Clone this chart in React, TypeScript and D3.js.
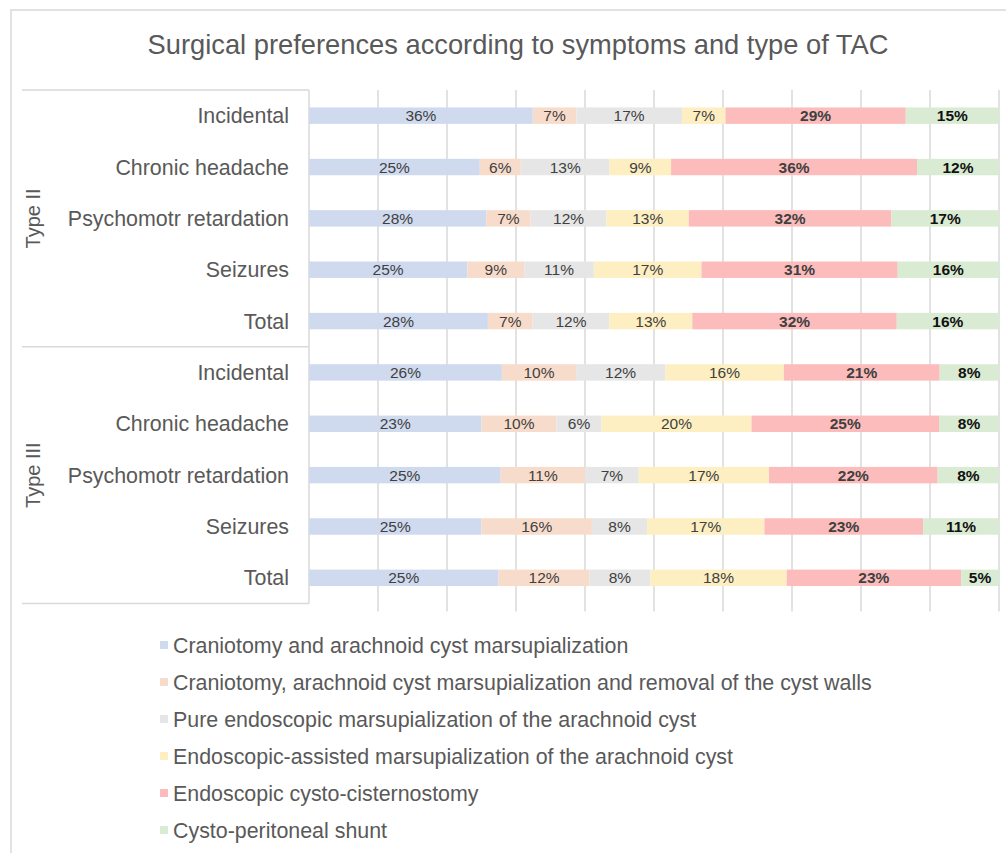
import React, { useEffect, useRef } from 'react';
import * as d3 from 'd3';

// ── data ──
const groups = ['Type II', 'Type III'];
const symptoms = ['Incidental', 'Chronic headache', 'Psychomotr retardation', 'Seizures', 'Total'];

const series = [
  'Craniotomy and arachnoid cyst marsupialization',
  'Craniotomy, arachnoid cyst marsupialization and removal of the cyst walls',
  'Pure endoscopic marsupialization of the arachnoid cyst',
  'Endoscopic-assisted marsupialization of the arachnoid cyst',
  'Endoscopic cysto-cisternostomy',
  'Cysto-peritoneal shunt',
];
const colors = ['#cfdaef', '#f8dccb', '#e6e6e6', '#fdefc1', '#fdbcbc', '#d9ebd2'];

// percentages per row, in series order (Type II rows then Type III rows)
const typeII = [
  [36, 7, 17, 7, 29, 15],
  [25, 6, 13, 9, 36, 12],
  [28, 7, 12, 13, 32, 17],
  [25, 9, 11, 17, 31, 16],
  [28, 7, 12, 13, 32, 16],
];
const typeIII = [
  [26, 10, 12, 16, 21, 8],
  [23, 10, 6, 20, 25, 8],
  [25, 11, 7, 17, 22, 8],
  [25, 16, 8, 17, 23, 11],
  [25, 12, 8, 18, 23, 5],
];
const xTicks = [0, 0.1, 0.2, 0.3, 0.4, 0.5, 0.6, 0.7, 0.8, 0.9, 1];

const W = 1006;
const H = 853;
const PLOT = { left: 309, right: 999, top: 90, bottom: 603.5 };
const TEXT = '#595959';
const FONT = 'Liberation Sans, Arial, sans-serif';

export default function App() {
  const ref = useRef<SVGSVGElement>(null);

  useEffect(() => {
    const svg = d3.select(ref.current);
    svg.selectAll('*').remove();

    const rows = [...typeII, ...typeIII].map((v, i) => {
      const o: any = { key: i };
      v.forEach((x, s) => (o['s' + s] = x));
      return o;
    });
    const keys = series.map((_, s) => 's' + s);
    const stacked = d3.stack().keys(keys).offset(d3.stackOffsetExpand)(rows);

    const x = d3.scaleLinear().domain([0, 1]).range([PLOT.left, PLOT.right]);
    const y = d3.scaleBand<number>()
      .domain(rows.map(r => r.key))
      .range([PLOT.top, PLOT.bottom])
      .paddingInner(0.68)
      .paddingOuter(0.34);

    svg.append('rect').attr('width', W).attr('height', H).attr('fill', '#fff');
    // chart frame
    svg.append('rect').attr('x', 11).attr('y', 10).attr('width', W + 20).attr('height', H + 20)
      .attr('fill', 'none').attr('stroke', '#d9d9d9').attr('stroke-width', 1.5);

    svg.append('text').attr('x', 518).attr('y', 54).attr('text-anchor', 'middle')
      .attr('font-family', FONT).attr('font-size', 27.3)
      .attr('fill', TEXT).text('Surgical preferences according to symptoms and type of TAC');

    // gridlines
    svg.append('g').selectAll('line').data(xTicks.slice(1)).join('line')
      .attr('x1', d => x(d)).attr('x2', d => x(d))
      .attr('y1', PLOT.top).attr('y2', PLOT.bottom + 8)
      .attr('stroke', '#d9d9d9').attr('stroke-width', 1.5);

    // category axis with group separators
    const ax = svg.append('g').attr('stroke', '#d9d9d9').attr('stroke-width', 1.5);
    ax.append('line').attr('x1', PLOT.left).attr('x2', PLOT.left).attr('y1', PLOT.top).attr('y2', PLOT.bottom);
    const step = y.step();
    [0, 5, 10].forEach(k => {
      const yy = PLOT.top + k * step;
      ax.append('line').attr('x1', 22).attr('x2', PLOT.left).attr('y1', yy).attr('y2', yy);
    });

    // bars
    stacked.forEach((layer, s) => {
      svg.append('g').selectAll('rect').data(layer).join('rect')
        .attr('x', d => x(d[0]))
        .attr('width', d => x(d[1]) - x(d[0]))
        .attr('y', d => y(d.data.key)!)
        .attr('height', y.bandwidth())
        .attr('fill', colors[s]);

      svg.append('g').selectAll('text').data(layer).join('text')
        .attr('x', d => (x(d[0]) + x(d[1])) / 2)
        .attr('y', d => y(d.data.key)! + y.bandwidth() / 2 + 5.5)
        .attr('text-anchor', 'middle')
        .attr('font-family', FONT)
        .attr('font-size', 15.5)
        .attr('font-weight', s >= 4 ? 'bold' : 'normal')
        .attr('fill', s === 5 ? '#111' : '#404040')
        .text(d => `${d.data['s' + s]}%`);
    });

    // category labels
    svg.append('g').selectAll('text').data(rows).join('text')
      .attr('x', 289)
      .attr('y', d => y(d.key)! + y.bandwidth() / 2 + 7.5)
      .attr('text-anchor', 'end')
      .attr('font-family', FONT)
      .attr('font-size', 21.4)
      .attr('fill', TEXT)
      .text(d => symptoms[d.key % symptoms.length]);

    // group labels (rotated)
    groups.forEach((g, gi) => {
      const cy = PLOT.top + (gi * 5 + 2.5) * step;
      svg.append('text')
        .attr('transform', `translate(40,${cy}) rotate(-90)`)
        .attr('text-anchor', 'middle')
        .attr('font-family', FONT)
        .attr('font-size', 20)
        .attr('fill', TEXT)
        .text(g);
    });

    // legend
    const lg = svg.append('g');
    series.forEach((name, s) => {
      const cy = 645 + s * 37;
      lg.append('rect').attr('x', 160).attr('y', cy - 4).attr('width', 8).attr('height', 8).attr('fill', colors[s]);
      lg.append('text').attr('x', 173).attr('y', cy + 7.5)
        .attr('font-family', FONT)
        .attr('font-size', 21.4)
        .attr('fill', TEXT)
        .text(name);
    });
  }, []);

  return (
    <svg ref={ref} width={W} height={H}
      style={{ position: 'absolute', left: 0, top: 0, display: 'block' }} />
  );
}
